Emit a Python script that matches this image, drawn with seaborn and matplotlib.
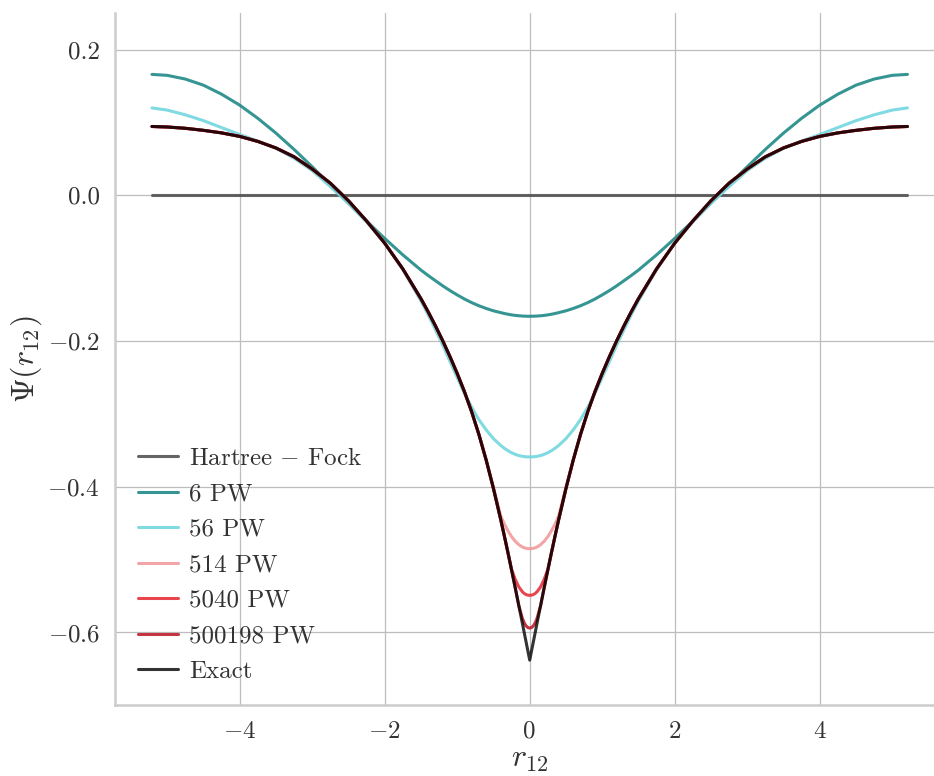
import numpy as np
import pandas as pd
import matplotlib
matplotlib.use("Agg")
import matplotlib.pyplot as plt
import seaborn as sns

# ---- data (curves are symmetric about r12 = 0) ----
# right half grid (r12 >= 0)
r_half = [0.0, 0.025, 0.05, 0.075, 0.1, 0.15, 0.2, 0.25, 0.3, 0.35, 0.4,
          0.5, 0.6, 0.7, 0.8, 0.9, 1.0, 1.1, 1.2, 1.3, 1.4, 1.5,
          1.75, 2.0, 2.25, 2.5, 2.75, 3.0, 3.25, 3.5, 3.75, 4.0, 4.25,
          4.5, 4.75, 5.0, 5.21]

hf_half = [0.0] * len(r_half)

pw6_half = [-0.166, -0.1660, -0.1659, -0.1658, -0.1657, -0.1653, -0.1648,
            -0.1641, -0.1632, -0.1622, -0.1610, -0.1585, -0.1553, -0.1516,
            -0.1473, -0.1423, -0.1367, -0.1307, -0.1242, -0.1172, -0.1101,
            -0.1026, -0.0817, -0.0592, -0.0353, -0.0105, 0.0145, 0.0392,
            0.0630, 0.0854, 0.1057, 0.1238, 0.1388, 0.1512, 0.1596, 0.1647,
            0.1660]

pw56_half = [-0.359, -0.3590, -0.3589, -0.3587, -0.3583, -0.3572, -0.3555,
             -0.3533, -0.3505, -0.3472, -0.3433, -0.3340, -0.3220, -0.3080,
             -0.2910, -0.2720, -0.2500, -0.2280, -0.2055, -0.1845, -0.1640,
             -0.1450, -0.1020, -0.0655, -0.0365, -0.0110, 0.0120, 0.0340,
             0.0510, 0.0645, 0.0745, 0.0835, 0.0930, 0.1025, 0.1105, 0.1170,
             0.1200]

pw514_half = [-0.485, -0.4849, -0.4845, -0.4838, -0.4828, -0.4795, -0.4748,
              -0.4685, -0.4605, -0.4510, -0.4400, -0.4010, -0.3635, -0.3285,
              -0.2973, -0.2695, -0.2445, -0.2213, -0.1996, -0.1792, -0.1600,
              -0.1419, -0.1010, -0.0657, -0.0352, -0.0074, 0.0167, 0.0361,
              0.0529, 0.0650, 0.0740, 0.0809, 0.0857, 0.0892, 0.0920, 0.0938,
              0.0945]

pw5040_half = [-0.549, -0.5488, -0.5480, -0.5465, -0.5443, -0.5375, -0.5270,
               -0.5135, -0.4905, -0.4675, -0.4450, -0.4025, -0.3635, -0.3285,
               -0.2973, -0.2695, -0.2445, -0.2213, -0.1996, -0.1792, -0.1600,
               -0.1419, -0.1010, -0.0657, -0.0352, -0.0074, 0.0167, 0.0361,
               0.0529, 0.0650, 0.0740, 0.0809, 0.0857, 0.0892, 0.0920, 0.0938,
               0.0945]

pw500198_half = [-0.594, -0.5933, -0.5910, -0.5870, -0.5810, -0.5633, -0.5385,
                 -0.5145, -0.4905, -0.4675, -0.4450, -0.4025, -0.3635, -0.3285,
                 -0.2973, -0.2695, -0.2445, -0.2213, -0.1996, -0.1792, -0.1600,
                 -0.1419, -0.1010, -0.0657, -0.0352, -0.0074, 0.0167, 0.0361,
                 0.0529, 0.0650, 0.0740, 0.0809, 0.0857, 0.0892, 0.0920, 0.0938,
                 0.0945]

exact_half = [-0.638, -0.6255, -0.6130, -0.6005, -0.5880, -0.5633, -0.5385,
              -0.5145, -0.4905, -0.4675, -0.4450, -0.4025, -0.3635, -0.3285,
              -0.2973, -0.2695, -0.2445, -0.2213, -0.1996, -0.1792, -0.1600,
              -0.1419, -0.1010, -0.0657, -0.0352, -0.0074, 0.0167, 0.0361,
              0.0529, 0.0650, 0.0740, 0.0809, 0.0857, 0.0892, 0.0920, 0.0938,
              0.0945]

labels = [r"$\mathrm{Hartree}\,-\,\mathrm{Fock}$", "6 PW", "56 PW", "514 PW",
          "5040 PW", "500198 PW", "Exact"]
colors = ["#4a4a4a", "#1f8a87", "#72d6de", "#f29a9c", "#e6323c", "#bd1f2b",
          "#000000"]
alphas = [0.85, 0.9, 0.9, 0.9, 0.9, 0.9, 0.8]
yticks = [-0.6, -0.4, -0.2, 0.0, 0.2]
xticks = [-4, -2, 0, 2, 4]


def mirror(vals, neg=False):
    v = np.asarray(vals, dtype=float)
    left = -v[::-1] if neg else v[::-1]
    return np.concatenate([left, v[1:]])


r = mirror(r_half, neg=True)
series = [hf_half, pw6_half, pw56_half, pw514_half, pw5040_half,
          pw500198_half, exact_half]

# ---- style ----
sns.set_theme(style="whitegrid")
plt.rcParams["font.family"] = "serif"
plt.rcParams["font.serif"] = ["cmr10"]
plt.rcParams["mathtext.fontset"] = "cm"
plt.rcParams["axes.formatter.use_mathtext"] = True
plt.rcParams["axes.unicode_minus"] = True

fig = plt.figure(figsize=(9.34, 7.76), dpi=100)
ax = fig.add_axes([115 / 934, 1 - 705.3 / 776, 829.4 / 934, 692.1 / 776])

for lab, col, a, s in zip(labels, colors, alphas, series):
    df = pd.DataFrame({"r": r, "psi": mirror(s)})
    sns.lineplot(data=df, x="r", y="psi", ax=ax, color=col, alpha=a,
                 linewidth=2.2, label=lab, sort=False, estimator=None)

ax.set_xlim(-5.72, 5.72)
ax.set_ylim(-0.70, 0.25)
ax.set_xticks(xticks)
ax.set_yticks(yticks)
ax.set_yticklabels([f"{t:.1f}" if t >= 0 else f"$-${abs(t):.1f}" for t in yticks])
ax.set_xticklabels([f"{t}" if t >= 0 else f"$-${abs(t)}" for t in xticks])
ax.tick_params(axis="both", labelsize=18, length=0, colors="#333333")
ax.tick_params(axis="y", pad=11)
ax.tick_params(axis="x", pad=11)
ax.grid(True, color="#bdbdbd", linewidth=0.9)
for side in ["top", "right"]:
    ax.spines[side].set_visible(False)
for side in ["left", "bottom"]:
    ax.spines[side].set_color("#cccccc")
    ax.spines[side].set_linewidth(1.8)

ax.set_xlabel(r"$r_{12}$", fontsize=23, color="#333333", labelpad=3)
ax.set_ylabel(r"$\Psi(r_{12})$", fontsize=23, color="#333333", labelpad=2)

leg = ax.legend(loc="lower left", frameon=False, fontsize=18,
                handlelength=1.6, handletextpad=0.45, labelspacing=0.52)
for t in leg.get_texts():
    t.set_color("#333333")

fig.savefig("out.png", dpi=100)
